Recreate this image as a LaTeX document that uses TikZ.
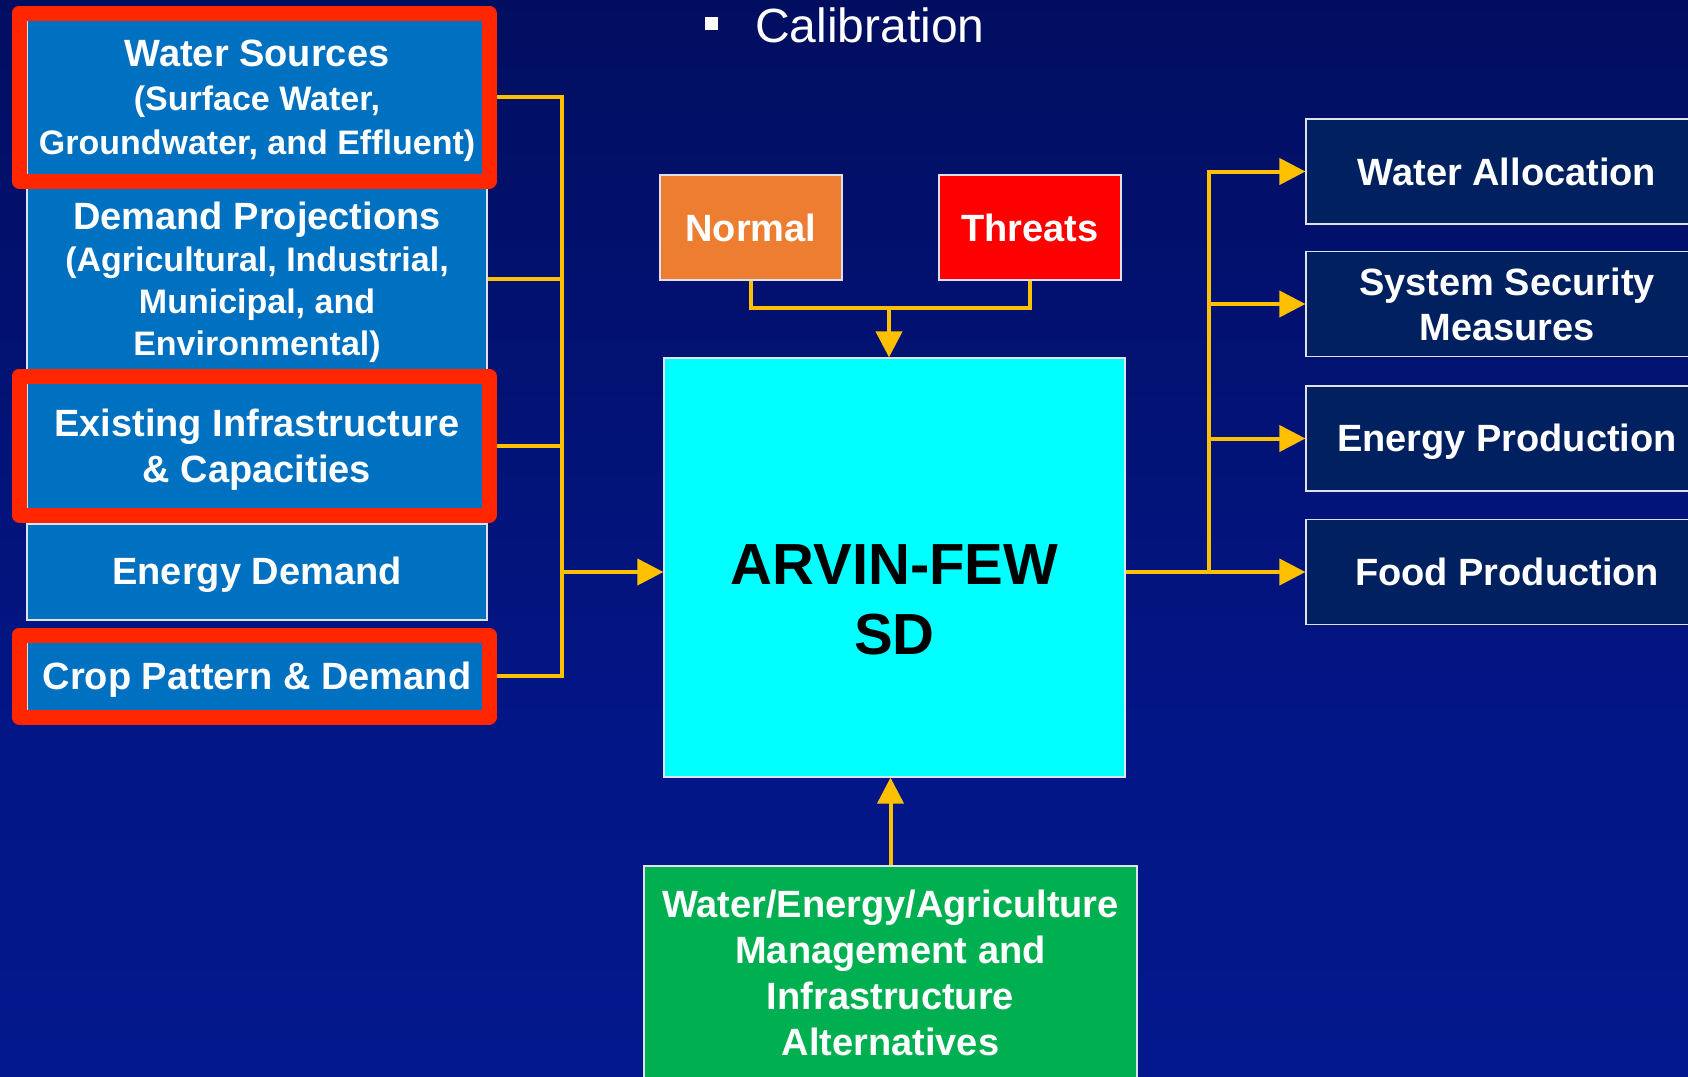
\documentclass[tikz,border=0pt]{standalone}
\usepackage{fontspec}
\setmainfont{Liberation Sans}
\usetikzlibrary{arrows.meta}
\definecolor{bgtop}{RGB}{0,8,68}
\definecolor{bgmid}{RGB}{3,22,135}
\definecolor{bgbot}{RGB}{5,27,152}
\definecolor{boxblue}{RGB}{0,112,192}
\definecolor{frred}{RGB}{255,38,0}
\definecolor{normorange}{RGB}{237,125,49}
\definecolor{thrred}{RGB}{255,0,0}
\definecolor{navybox}{RGB}{0,32,96}
\definecolor{greenbox}{RGB}{0,176,80}
\definecolor{linkyellow}{RGB}{255,192,0}
\definecolor{edgegray}{RGB}{220,225,235}
\definecolor{corecyan}{RGB}{0,255,255}
\pgfdeclareverticalshading{bgshade}{100bp}{color(0bp)=(bgbot); color(40bp)=(bgmid); color(100bp)=(bgtop)}
\newcommand\subsz{\fontsize{34}{42}\selectfont}
\newcommand\subszb{\fontsize{34}{44}\selectfont}
\newcommand\padtop[1]{\rule{0pt}{#1pt}}
\begin{document}
\begin{tikzpicture}[x=1pt,y=-1pt,
  boxbase/.style={draw=edgegray, line width=1.2pt, text=white, align=center, inner sep=2pt,
    font=\bfseries\fontsize{38}{44}\selectfont},
  leftbox/.style={boxbase, fill=boxblue, minimum width=460pt},
  redframe/.style={draw=frred, line width=15pt, line join=round, minimum width=470pt, inner sep=0pt},
  outbox/.style={boxbase, fill=navybox, minimum width=402pt, minimum height=105pt},
  conn/.style={draw=linkyellow, line width=4pt},
  arr/.style={-{Triangle[length=26pt,width=26pt]}}
]
\useasboundingbox (0,0) rectangle (1688,1076);
\clip (0,0) rectangle (1688,1076);
\shade[shading=bgshade] (0,0) rectangle (1688,1076);

% title bullet
\node[fill=white, minimum size=13pt, inner sep=0pt] (bullet) at (711.5,23.5) {};
\node[anchor=base west, text=white, inner sep=0pt, font=\fontsize{48}{56}\selectfont] (calib) at (755,42) {Calibration};

% left input boxes
\node[leftbox, minimum height=168pt] (ws) at (257,97)
  {\padtop{34}Water Sources\\{\subszb (Surface Water,}\\{\subszb Groundwater, and Effluent)}};
\node[leftbox, minimum height=194pt, font=\bfseries\fontsize{38}{42}\selectfont] (dp) at (257,279)
  {\padtop{34}Demand Projections\\{\subsz (Agricultural, Industrial,}\\{\subsz Municipal, and}\\{\subsz Environmental)}};
\node[leftbox, minimum height=139pt, font=\bfseries\fontsize{38}{46}\selectfont] (ei) at (257,445.5)
  {\padtop{36}Existing Infrastructure\\\& Capacities};
\node[leftbox, minimum height=96pt] (ed) at (257,572) {\padtop{33}Energy Demand};
\node[leftbox, minimum height=82pt] (crop) at (257,676) {\padtop{34}Crop Pattern \& Demand};

% red highlight frames
\node[redframe, minimum height=168pt] (wsf) at (254,97) {};
\node[redframe, minimum height=139pt] (eif) at (254,445.5) {};
\node[redframe, minimum height=82pt] (cropf) at (254,676) {};

% scenario boxes
\node[boxbase, fill=normorange, minimum width=182pt, minimum height=105pt] (normal) at (751,227.5) {Normal};
\node[boxbase, fill=thrred, minimum width=182pt, minimum height=105pt] (threats) at (1030,227.5) {Threats};

% core model
\node[boxbase, fill=corecyan, minimum width=461pt, minimum height=419pt] (core) at (894.5,567.5) {};
\node[text=black, align=center, inner sep=0pt, font=\bfseries\fontsize{58}{70}\selectfont] (corelabel) at (894.5,600) {ARVIN-FEW\\SD};

% outputs
\node[outbox] (wa) at (1507,171.5) {Water Allocation};
\node[outbox, font=\bfseries\fontsize{38}{45}\selectfont] (ss) at (1507,304) {System Security\\Measures};
\node[outbox] (ep) at (1507,438.5) {\padtop{34}Energy Production};
\node[outbox] (fp) at (1507,572) {Food Production};

% alternatives
\node[boxbase, fill=greenbox, minimum width=493pt, minimum height=214pt, font=\bfseries\fontsize{38}{46}\selectfont] (alt) at (890.5,973)
  {Water/Energy/Agriculture\\Management and\\Infrastructure\\Alternatives};

% connectors left
\coordinate (lj) at (562,572);
\draw[conn] (wsf.east) -| (lj);
\draw[conn] (cropf.east) -| (lj);
\draw[conn] (dp.east) -- (dp.east -| lj);
\draw[conn] (eif.east) -- (eif.east -| lj);
\draw[conn,arr] (lj) -- (lj -| core.west);

% connectors top
\coordinate (tj) at (889,308);
\draw[conn] (normal.south) |- (tj) -| (threats.south);
\draw[conn,arr] (tj) -- (tj |- core.north);

% connector bottom
\draw[conn,arr] (alt.north) -- (alt.north |- core.south);

% connectors right
\coordinate (rj) at (1209,572);
\draw[conn] (core.east |- rj) -- (rj);
\draw[conn,arr] (rj) |- (wa.west);
\draw[conn,arr] (rj |- ss.west) -- (ss.west);
\draw[conn,arr] (rj |- ep.west) -- (ep.west);
\draw[conn,arr] (rj) -- (fp.west);
\end{tikzpicture}
\end{document}
